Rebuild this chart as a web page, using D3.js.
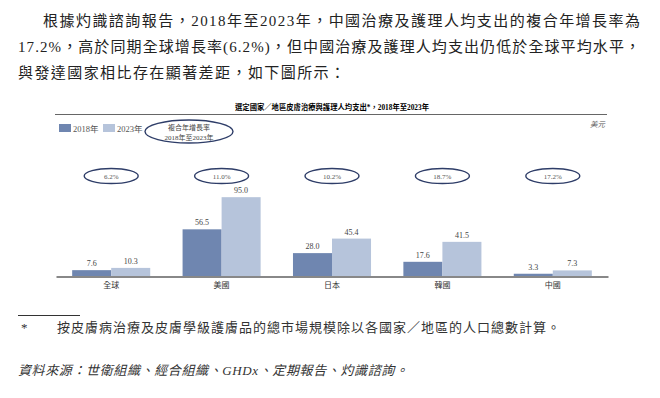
<!DOCTYPE html>
<html>
<head>
<meta charset="utf-8">
<script src="https://cdn.jsdelivr.net/npm/d3@7"></script>
<style>
  body { margin: 0; background: #fff; }
  svg { display: block; }
</style>
</head>
<body>
<svg id="chart"></svg>
<script>
const categories = ["全球", "美國", "日本", "韓國", "中國"];
const series = ["2018年", "2023年"];
const values2018 = [7.6, 56.5, 28.0, 17.6, 3.3];
const values2023 = [10.3, 95.0, 45.4, 41.5, 7.3];
const cagr = ["6.2%", "11.0%", "10.2%", "18.7%", "17.2%"];

const paragraph = [
  "根據灼識諮詢報告，2018年至2023年，中國治療及護理人均支出的複合年增長率為",
  "17.2%，高於同期全球增長率(6.2%)，但中國治療及護理人均支出仍低於全球平均水平，",
  "與發達國家相比存在顯著差距，如下圖所示："
];
const chartTitle = "選定國家／地區皮膚治療與護理人均支出*，2018年至2023年";
const footnote = "按皮膚病治療及皮膚學級護膚品的總市場規模除以各國家／地區的人口總數計算。";
const source = "資料來源：世衛組織、經合組織、GHDx、定期報告、灼識諮詢。";

const width = 660, height = 398;
const serif = "'Liberation Serif', 'Noto Sans CJK TC', serif";
const dark = "#6f86b0", light = "#b6c4db", navy = "#2e3d68";

const svg = d3.select("#chart").attr("width", width).attr("height", height);

// paragraph above the chart
const para = svg.append("g").attr("font-family", serif).attr("font-size", 15).attr("fill", "#222");
para.append("text").attr("x", 43).attr("y", 26).attr("textLength", 597).attr("lengthAdjust", "spacing").text(paragraph[0]);
para.append("text").attr("x", 18).attr("y", 52).attr("textLength", 622).attr("lengthAdjust", "spacing").text(paragraph[1]);
para.append("text").attr("x", 18).attr("y", 78).attr("textLength", 327).attr("lengthAdjust", "spacing").text(paragraph[2]);

// chart title and rule
svg.append("text").attr("x", 332).attr("y", 110).attr("text-anchor", "middle")
  .attr("font-family", serif).attr("font-size", 7.5).attr("font-weight", "bold")
  .attr("textLength", 194).attr("lengthAdjust", "spacingAndGlyphs").text(chartTitle);
svg.append("line").attr("x1", 55).attr("x2", 607).attr("y1", 114.5).attr("y2", 114.5)
  .attr("stroke", "#666").attr("stroke-width", 1.2);

svg.append("text").attr("x", 590).attr("y", 127).attr("font-family", serif)
  .attr("font-size", 7.5).attr("font-style", "italic").attr("fill", "#555").text("美元");

// legend
const legendColor = d3.scaleOrdinal().domain(series).range([dark, light]);
const legend = svg.append("g").attr("font-family", serif).attr("font-size", 8.5).attr("fill", "#555");
const legX = d3.scaleOrdinal().domain(series).range([59, 103]);
series.forEach(s => {
  legend.append("rect").attr("x", legX(s)).attr("y", 124).attr("width", 12).attr("height", 8)
    .attr("fill", legendColor(s));
  legend.append("text").attr("x", legX(s) + 14).attr("y", 131.5).text(s);
});
svg.append("ellipse").attr("cx", 189).attr("cy", 131.5).attr("rx", 44).attr("ry", 11.5)
  .attr("fill", "none").attr("stroke", navy).attr("stroke-width", 1.4);
svg.append("text").attr("x", 189).attr("y", 130).attr("text-anchor", "middle")
  .attr("font-family", serif).attr("font-size", 7).attr("fill", "#444").text("複合年增長率");
svg.append("text").attr("x", 189).attr("y", 139.5).attr("text-anchor", "middle")
  .attr("font-family", serif).attr("font-size", 7).attr("fill", "#444").text("2018年至2023年");

// scales
const x0 = d3.scaleBand().domain(categories).range([56, 608]).paddingInner(0.293).paddingOuter(0.1465);
const x1 = d3.scaleBand().domain(series).range([0, x0.bandwidth()]);
const y = d3.scaleLinear().domain([0, 100]).range([276.5, 193]);

const rows = categories.map((c, i) => ({cat: c, vals: [
  {s: series[0], v: values2018[i]},
  {s: series[1], v: values2023[i]}
]}));

const groups = svg.selectAll(".grp").data(rows).enter().append("g")
  .attr("class", "grp")
  .attr("transform", d => `translate(${x0(d.cat)},0)`);

groups.selectAll("rect").data(d => d.vals).enter().append("rect")
  .attr("x", d => x1(d.s))
  .attr("y", d => y(d.v))
  .attr("width", x1.bandwidth())
  .attr("height", d => y(0) - y(d.v))
  .attr("fill", d => legendColor(d.s));

groups.selectAll(".lbl").data(d => d.vals).enter().append("text")
  .attr("class", "lbl")
  .attr("x", d => x1(d.s) + x1.bandwidth() / 2)
  .attr("y", d => y(d.v) - 4)
  .attr("text-anchor", "middle")
  .attr("font-family", serif).attr("font-size", 8).attr("fill", "#444")
  .text(d => d.v.toFixed(1));

// CAGR ellipses
const ell = svg.selectAll(".cagr").data(categories).enter().append("g")
  .attr("class", "cagr")
  .attr("transform", d => `translate(${x0(d) + x0.bandwidth() / 2},176)`);
ell.append("ellipse").attr("rx", 27).attr("ry", 7.5)
  .attr("fill", "none").attr("stroke", navy).attr("stroke-width", 1.4);
ell.append("text").attr("y", 2.5).attr("text-anchor", "middle")
  .attr("font-family", serif).attr("font-size", 7).attr("fill", "#555")
  .text((d, i) => cagr[i]);

// x axis
const xAxis = d3.axisBottom(x0).tickSize(0).tickPadding(6);
const axisG = svg.append("g").attr("transform", `translate(0,${y(0)})`).call(xAxis);
axisG.select(".domain").attr("stroke", "#888").attr("stroke-width", 2);
axisG.selectAll("text").attr("font-family", serif).attr("font-size", 8).attr("fill", "#333");

// footnote
svg.append("line").attr("x1", 18).attr("x2", 80).attr("y1", 315.5).attr("y2", 315.5)
  .attr("stroke", "#333").attr("stroke-width", 1);
const foot = svg.append("g").attr("font-family", serif).attr("font-size", 13).attr("fill", "#333");
foot.append("text").attr("x", 21).attr("y", 332).text("*");
foot.append("text").attr("x", 57).attr("y", 332).attr("textLength", 503).attr("lengthAdjust", "spacing").text(footnote);
foot.append("text").attr("x", 18).attr("y", 375).attr("font-style", "italic")
  .attr("textLength", 390).attr("lengthAdjust", "spacing").text(source);
</script>
</body>
</html>
